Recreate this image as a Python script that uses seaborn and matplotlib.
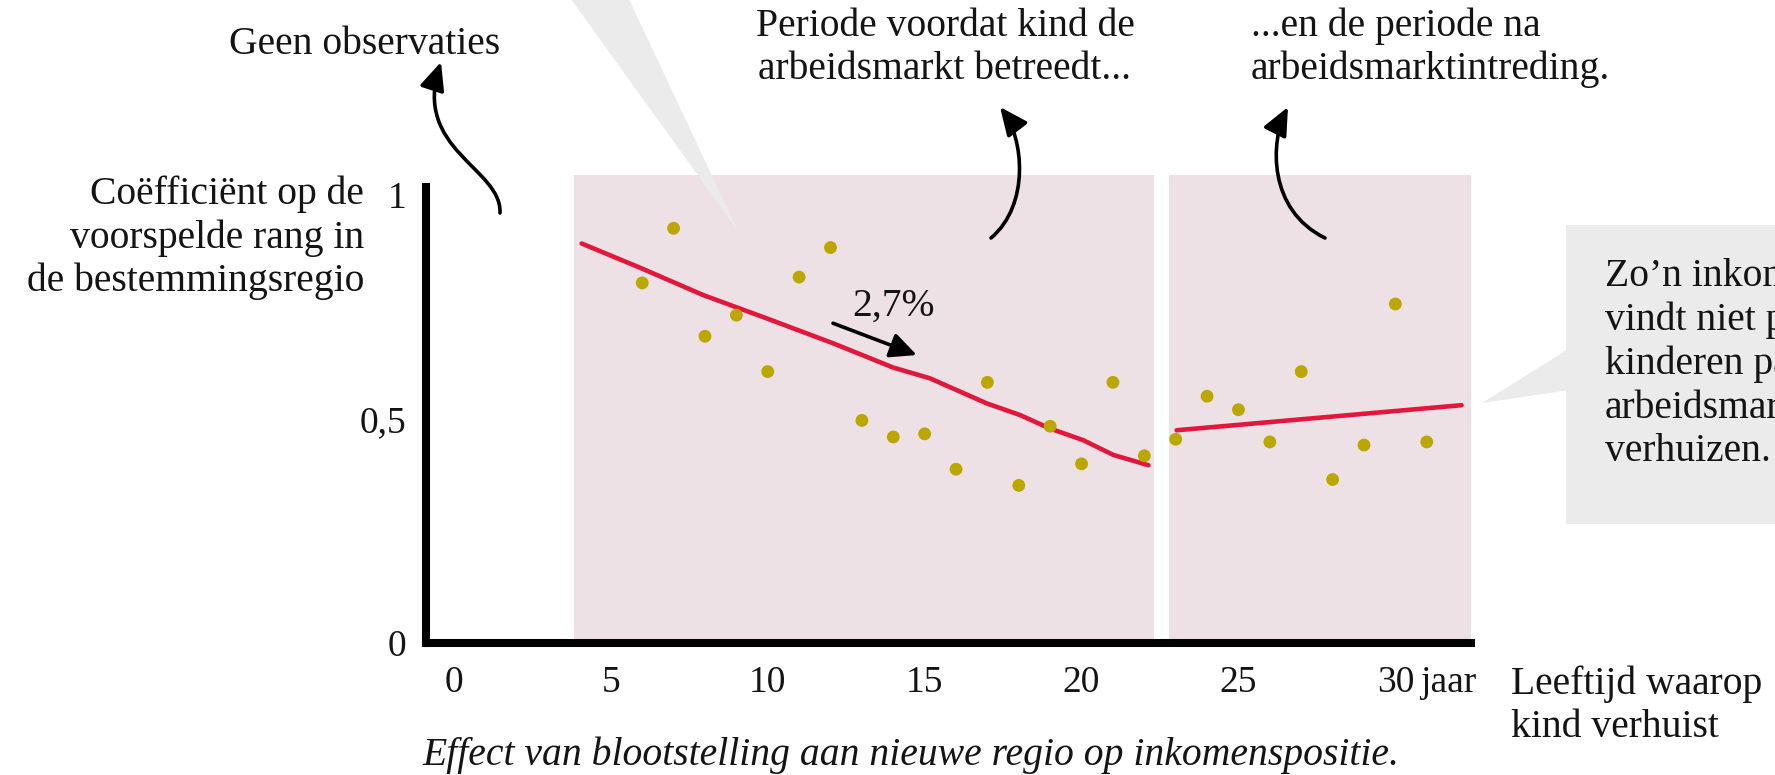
import matplotlib
matplotlib.use("Agg")
import matplotlib.pyplot as plt
import numpy as np
import pandas as pd
import seaborn as sns
from matplotlib.patches import Polygon, Rectangle, FancyArrowPatch
from matplotlib.path import Path

# ---------------- data ----------------
ages = [6, 7, 8, 9, 10, 11, 12, 13, 14, 15, 16, 17, 18, 19, 20, 21, 22,
        23, 24, 25, 26, 27, 28, 29, 30, 31]
coef = [0.804, 0.926, 0.685, 0.732, 0.606, 0.817, 0.883, 0.497, 0.460, 0.467,
        0.388, 0.582, 0.352, 0.484, 0.400, 0.582, 0.418,
        0.455, 0.551, 0.521, 0.449, 0.606, 0.365, 0.442, 0.757, 0.449]

fit_before_age = [4.07, 5.93, 7.94, 9.96, 12.09, 14.0, 15.17, 16.98, 18.04,
                  18.99, 20.05, 21.01, 22.13]
fit_before_coef = [0.892, 0.838, 0.777, 0.725, 0.669, 0.615, 0.591, 0.535,
                   0.509, 0.479, 0.453, 0.420, 0.397]
fit_after_age = [23.03, 32.11]
fit_after_coef = [0.475, 0.531]

period_before = [3.82, 22.32]
period_after = [22.79, 32.41]

xticks = [0, 5, 10, 15, 20, 25, 30]
xticklabels = ["0", "5", "10", "15", "20", "25", "30"]
yticks = [0, 0.5, 1]
yticklabels = ["0", "0,5", "1"]

slope_label = "2,7%"
y_title = "Coëfficiënt op de\nvoorspelde rang in\nde bestemmingsregio"
x_title = "Leeftijd waarop\nkind verhuist"
caption = "Effect van blootstelling aan nieuwe regio op inkomenspositie."
note_none = "Geen observaties"
note_before = "Periode voordat kind de\narbeidsmarkt betreedt..."
note_after = "...en de periode na\narbeidsmarktintreding."
note_box = "Zo’n inkomenseffect\nvindt niet plaats als\nkinderen pas na\narbeidsmarktintreding\nverhuizen."

# ---------------- styling ----------------
sns.set_style("white")
plt.rcParams["font.family"] = ["Liberation Serif", "DejaVu Serif"]
FS = 28.5
TFS = 27
LS = 1.21
TXT = "#141414"
SHADE = "#EDE1E6"
GREY = "#EBEBEB"
RED = "#E3173B"
DOT = "#BBA700"

W, H = 1775, 775
fig = plt.figure(figsize=(W / 100, H / 100), dpi=100)


def px(x, y):
    return (x / W, 1 - y / H)


ax = fig.add_axes([426 / W, 132 / H, (1471 - 426) / W, (643 - 175) / H])
ax.set_facecolor("white")

ax.axvspan(*period_before, color=SHADE, lw=0, zorder=1)
ax.axvspan(*period_after, color=SHADE, lw=0, zorder=1)

df = pd.DataFrame({"age": ages, "coef": coef})
sns.lineplot(x=fit_before_age, y=fit_before_coef, color=RED, lw=3.3, ax=ax,
             zorder=3)
sns.lineplot(x=fit_after_age, y=fit_after_coef, color=RED, lw=3.3, ax=ax,
             zorder=3)
sns.scatterplot(data=df, x="age", y="coef", color=DOT, s=85, edgecolor="none",
                ax=ax, zorder=4)

ax.set_xlim(-0.89, 32.41)
ax.set_ylim(0, 1.045)
ax.set_xlabel("")
ax.set_ylabel("")
ax.set_xticks(xticks)
ax.set_xticklabels(xticklabels)
ax.set_yticks(yticks)
ax.set_yticklabels(yticklabels)
XPAD = 16
ax.tick_params(axis="x", length=0, labelsize=TFS, pad=XPAD, labelcolor=TXT)
ax.tick_params(axis="y", length=0, labelsize=TFS, pad=14, labelcolor=TXT)
for s in ["top", "right"]:
    ax.spines[s].set_visible(False)
for s in ["left", "bottom"]:
    ax.spines[s].set_linewidth(5.8)
    ax.spines[s].set_color("black")
ax.spines["left"].set_bounds(0, 1.018)
ax.grid(False)

ax.annotate("jaar", xy=(30, 0), xytext=(18, -XPAD), textcoords="offset points",
            ha="left", va="top", fontsize=TFS, color=TXT)

# slope arrow and label
ax.annotate("", xy=(14.75, 0.643), xytext=(12.08, 0.714),
            arrowprops=dict(arrowstyle="-|>,head_length=0.8,head_width=0.38",
                            mutation_scale=20, lw=2.6, color="black",
                            shrinkA=0, shrinkB=0), zorder=5)
ax.text(14.0, 0.752, slope_label, ha="center", va="center", fontsize=FS,
        color=TXT, zorder=5)

# grey wedge from the top
wedge = Polygon([px(568, -5), px(627, -5), px(738, 231)], closed=True,
                transform=fig.transFigure, facecolor=GREY, edgecolor="none",
                clip_on=False, zorder=2)
ax.add_patch(wedge)

# right grey callout box
fig.add_artist(Rectangle(px(1566, 524), 0.2, (524 - 225) / H,
                         transform=fig.transFigure, facecolor=GREY,
                         edgecolor="none", zorder=0.5))
fig.add_artist(Polygon([px(1570, 348), px(1570, 390), px(1482, 403)],
                       closed=True, transform=fig.transFigure, facecolor=GREY,
                       edgecolor="none", zorder=0.5))

# curved arrows


def curved_arrow(p0, p1, p2, p3):
    verts = [px(*p0), px(*p1), px(*p2), px(*p3)]
    codes = [Path.MOVETO, Path.CURVE4, Path.CURVE4, Path.CURVE4]
    arr = FancyArrowPatch(path=Path(verts, codes),
                          arrowstyle="-|>,head_length=0.85,head_width=0.38",
                          mutation_scale=20, lw=2.6, color="black",
                          transform=fig.transFigure, zorder=6)
    fig.add_artist(arr)


curved_arrow((500, 213), (502, 168), (412, 150), (441, 62))
curved_arrow((991, 238), (1030, 205), (1024, 138), (1000, 107))
curved_arrow((1325, 238), (1268, 210), (1270, 142), (1288, 107))

# texts
fig.text(*px(365, 45), note_none, ha="center", va="center", fontsize=FS,
         color=TXT)
fig.text(*px(945, 48), note_before, ha="center", va="center",
         multialignment="center", fontsize=FS, linespacing=LS, color=TXT)
fig.text(*px(1251, 48), note_after, ha="left", va="center", fontsize=FS,
         linespacing=LS, color=TXT)
fig.text(*px(364, 238), y_title, ha="right", va="center",
         multialignment="right", fontsize=FS, linespacing=LS, color=TXT)
fig.text(*px(1511, 706), x_title, ha="left", va="center", fontsize=FS,
         linespacing=LS, color=TXT)
fig.text(*px(422, 755), caption, ha="left", va="center", fontsize=FS,
         style="italic", color=TXT)
fig.text(*px(1605, 364), note_box, ha="left", va="center", fontsize=FS,
         linespacing=1.23, color=TXT, zorder=3)

fig.savefig("out.png", dpi=100)
